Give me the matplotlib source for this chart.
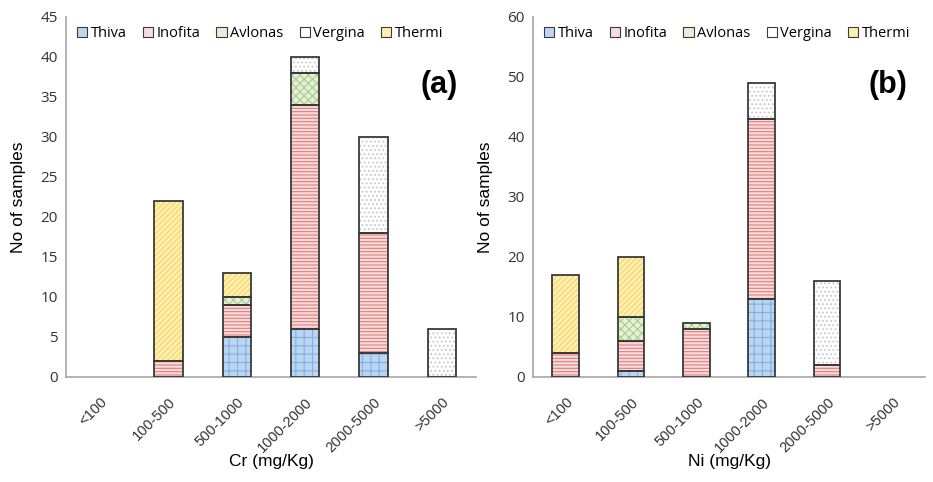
import numpy as np
import matplotlib
matplotlib.use("Agg")
import matplotlib.pyplot as plt
from matplotlib.patches import Patch

categories = ["<100", "100-500", "500-1000", "1000-2000", "2000-5000", ">5000"]
series = ["Thiva", "Inofita", "Avlonas", "Vergina", "Thermi"]

cr_thiva   = [0, 0, 5, 6, 3, 0]
cr_inofita = [0, 2, 4, 28, 15, 0]
cr_avlonas = [0, 0, 1, 4, 0, 0]
cr_vergina = [0, 0, 0, 2, 12, 6]
cr_thermi  = [0, 20, 3, 0, 0, 0]

ni_thiva   = [0, 1, 0, 13, 0, 0]
ni_inofita = [4, 5, 8, 30, 2, 0]
ni_avlonas = [0, 4, 1, 0, 0, 0]
ni_vergina = [0, 0, 0, 6, 14, 0]
ni_thermi  = [13, 10, 0, 0, 0, 0]

cr_ticks = [0, 5, 10, 15, 20, 25, 30, 35, 40, 45]
ni_ticks = [0, 10, 20, 30, 40, 50, 60]

styles = {
    "Thiva":   dict(fc="#bcd5f0", hc="#7fb0e6", hatch="++"),
    "Inofita": dict(fc="#f9dcdc", hc="#e57b7b", hatch="-----"),
    "Avlonas": dict(fc="#e6f0d8", hc="#a8cc8a", hatch="xxxx"),
    "Vergina": dict(fc="#ffffff", hc="#c8c8c8", hatch="...."),
    "Thermi":  dict(fc="#fff0b0", hc="#f5d36a", hatch="//////"),
}
edge = "#3a3a3a"
plt.rcParams["hatch.linewidth"] = 0.8

fig = plt.figure(figsize=(9.33, 4.82), dpi=100)
ax1 = fig.add_axes([66/933, 105/482, 410/933, 360/482])
ax2 = fig.add_axes([533/933, 105/482, 392/933, 360/482])

sans = ["Liberation Sans", "DejaVu Sans"]
cal = ["Open Sans", "DejaVu Sans"]

def draw(ax, data, ticks, xlabel, tag):
    x = np.arange(len(categories))
    bottom = np.zeros(len(categories))
    for name, vals in zip(series, data):
        v = np.array(vals, dtype=float)
        m = v > 0
        st = styles[name]
        ax.bar(x[m], v[m], 0.41, bottom=bottom[m], color=st["fc"],
               edgecolor=st["hc"], hatch=st["hatch"], linewidth=0, zorder=2)
        ax.bar(x[m], v[m], 0.41, bottom=bottom[m], fill=False,
               edgecolor=edge, linewidth=1.3, zorder=3)
        bottom += v
    ax.set_xlim(-0.5, len(categories) - 0.5)
    ax.set_ylim(0, ticks[-1])
    ax.set_yticks(ticks)
    ax.set_yticklabels([str(t) for t in ticks], fontsize=11, family=cal, color="#333333")
    ax.set_xticks(x)
    ax.set_xticklabels(categories, rotation=45, ha="right", rotation_mode="anchor",
                       fontsize=10.5, family=sans, color="#333333")
    ax.tick_params(axis="both", length=0, pad=6)
    ax.tick_params(axis="x", pad=13)
    for s in ["top", "right"]:
        ax.spines[s].set_visible(False)
    for s in ["left", "bottom"]:
        ax.spines[s].set_color("#a6a6a6")
        ax.spines[s].set_linewidth(1.2)
    ax.set_ylabel("No of samples", fontsize=12.5, family=sans, labelpad=10)
    ax.set_xlabel(xlabel, fontsize=12.5, family=sans, va="center")
    ax.xaxis.set_label_coords(0.5, -0.235)
    handles = [Patch(facecolor=styles[n]["fc"], edgecolor=edge, linewidth=0.8) for n in series]
    ax.legend(handles, series, loc="upper left", bbox_to_anchor=(0.005, 1.0), ncol=5,
              frameon=False, handlelength=0.7, handleheight=0.7, handletextpad=0.25,
              columnspacing=1.1, prop={"family": cal, "size": 10.5}, borderaxespad=0.2)
    ax.text(0.955, 0.81, tag, transform=ax.transAxes, ha="right", va="center",
            fontsize=22, fontweight="bold", family=sans)

draw(ax1, [cr_thiva, cr_inofita, cr_avlonas, cr_vergina, cr_thermi], cr_ticks, "Cr (mg/Kg)", "(a)")
draw(ax2, [ni_thiva, ni_inofita, ni_avlonas, ni_vergina, ni_thermi], ni_ticks, "Ni (mg/Kg)", "(b)")

fig.savefig("out.png", dpi=100)
